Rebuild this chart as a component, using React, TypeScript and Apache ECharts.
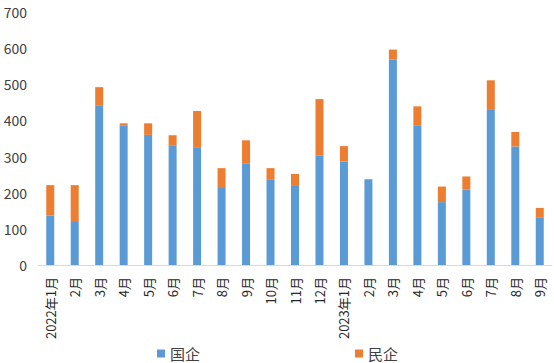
import React, { useEffect, useRef } from "react";
import * as echarts from "echarts";

const categories = [
  "2022年1月", "2月", "3月", "4月", "5月", "6月", "7月", "8月", "9月", "10月", "11月", "12月",
  "2023年1月", "2月", "3月", "4月", "5月", "6月", "7月", "8月", "9月",
];
const soeValues = [137, 119, 442, 387, 360, 331, 324, 213, 280, 237, 221, 304, 286, 236, 568, 387, 174, 209, 429, 328, 132];
const privateValues = [84, 102, 50, 5, 32, 28, 102, 55, 65, 31, 31, 155, 43, 2, 28, 52, 43, 36, 82, 40, 26];
const yTicks = [0, 100, 200, 300, 400, 500, 600, 700];

export default function App() {
  const ref = useRef<HTMLDivElement>(null);
  useEffect(() => {
    document.body.style.margin = "0";
    const chart = echarts.init(ref.current!, null, { renderer: "svg" });
    const font = "'Noto Sans CJK SC', 'Noto Sans', sans-serif";
    chart.setOption({
      animation: false,
      textStyle: { fontFamily: font },
      grid: { left: 38, right: 2, top: 12, bottom: 98, containLabel: false },
      legend: {
        left: 157,
        top: 345,
        padding: 0,
        itemWidth: 8,
        itemHeight: 8,
        itemGap: 155,
        icon: "rect",
        textStyle: { fontSize: 15, color: "#404040", fontFamily: font, lineHeight: 17 },
        data: ["国企", "民企"],
      },
      xAxis: {
        type: "category",
        data: categories,
        axisLine: { lineStyle: { color: "#d9d9d9", width: 1 } },
        axisTick: { show: false },
        axisLabel: { rotate: 90, interval: 0, fontSize: 13, color: "#262626", margin: 12, fontFamily: font },
      },
      yAxis: {
        type: "value",
        min: yTicks[0],
        max: yTicks[yTicks.length - 1],
        interval: 100,
        splitLine: { show: false },
        axisLine: { show: false },
        axisTick: { show: false },
        axisLabel: { fontSize: 14, color: "#404040", margin: 11, fontFamily: font },
      },
      series: [
        {
          name: "国企",
          type: "bar",
          stack: "total",
          barWidth: 8,
          data: soeValues,
          itemStyle: { color: "#5B9BD5" },
        },
        {
          name: "民企",
          type: "bar",
          stack: "total",
          barWidth: 8,
          data: privateValues,
          itemStyle: { color: "#ED7D31" },
        },
      ],
    });
    return () => chart.dispose();
  }, []);
  return <div ref={ref} style={{ width: 554, height: 363 }} />;
}
